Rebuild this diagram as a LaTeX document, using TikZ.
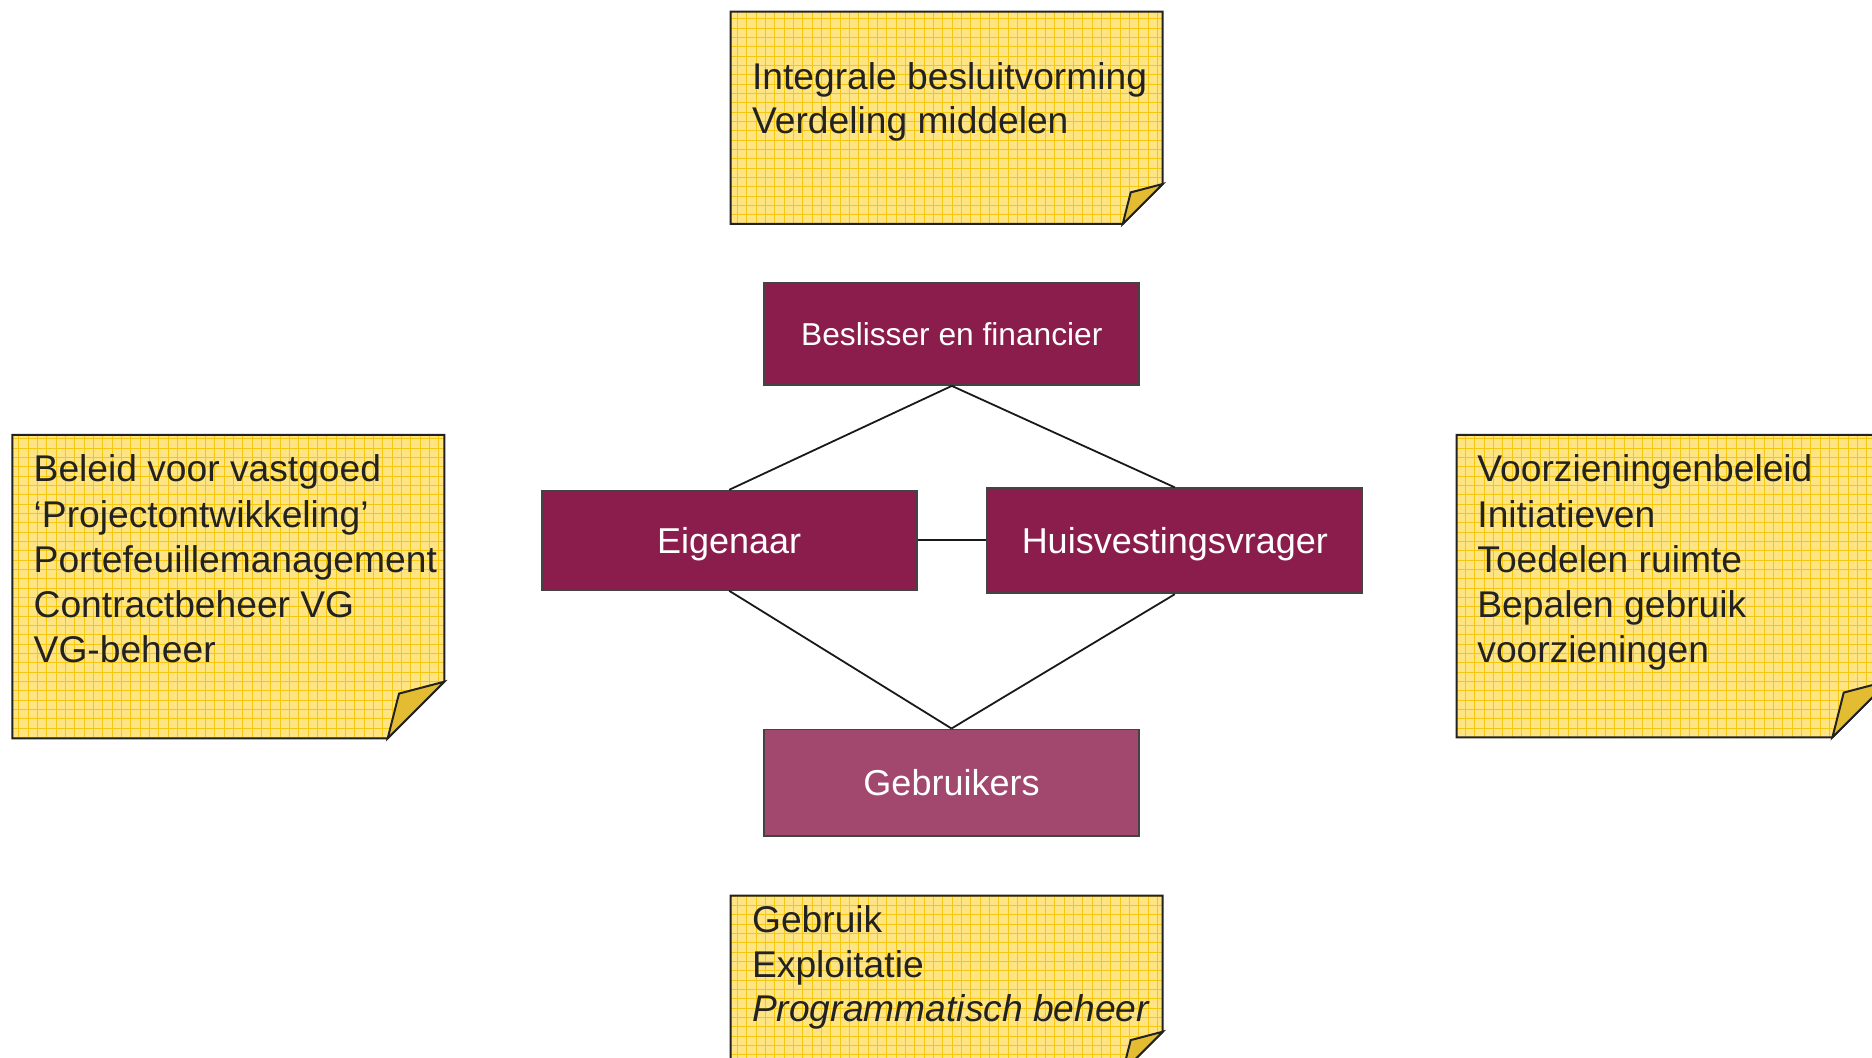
\documentclass[tikz,border=0pt]{standalone}
\usepackage{fontspec}
\setmainfont{Liberation Sans}
\definecolor{notefill}{HTML}{FFE483}
\definecolor{notegrid}{HTML}{F5C710}
\definecolor{flapfill}{HTML}{E3BC32}
\definecolor{boxfill}{HTML}{8A1D4B}
\definecolor{boxlight}{HTML}{A2486F}
\definecolor{ink}{HTML}{222222}
\newcommand\stickynote[5]{%
  \begin{scope}
    \clip ({#1},{#2}) -- ({#3},{#2}) -- ({#3},{#4-#5}) -- ({#3-#5},{#4}) -- ({#1},{#4}) -- cycle;
    \fill[notefill] ({#1},{#2}) rectangle ({#3},{#4});
    \draw[notegrid, line width=0.45pt, step=4.667pt] ({#1},{#2}) grid ({#3},{#4});
  \end{scope}
  \draw[notebord] ({#1},{#2}) -- ({#3},{#2}) -- ({#3},{#4-#5}) -- ({#3-#5},{#4}) -- ({#1},{#4}) -- cycle;
  \filldraw[notebord, fill=flapfill] ({#3},{#4-#5}) -- ({#3-0.8*#5},{#4-0.79*#5}) -- ({#3-#5},{#4}) -- cycle;
}
\begin{document}
\begin{tikzpicture}[x=0.5pt,y=-0.5pt,
  notebord/.style={draw=ink, line width=1pt, line join=miter},
  notetext/.style={anchor=base west, inner sep=0pt, text=ink, font=\fontsize{18.6pt}{22pt}\selectfont},
  rolebox/.style={draw=ink!85, line width=0.9pt, fill=boxfill, text=white, minimum width=187.5pt, inner sep=0pt, text depth=0pt},
  bigrole/.style={rolebox, font=\fontsize{18pt}{21pt}\selectfont, text height=12.9pt},
  link/.style={draw=black!90, line width=0.9pt}]
\useasboundingbox (0,0) rectangle (1872,1058);

% sticky notes
\stickynote{730.7}{11.7}{1162.7}{224}{40}
\stickynote{12.3}{435}{444.3}{738.3}{56.6}
\stickynote{1456.6}{435}{1889}{737.3}{56.6}
\stickynote{730.7}{895.7}{1162.7}{1071.7}{40}

% note texts
\node[notetext] (t1) at (751.7,89.3) {Integrale besluitvorming};
\node[notetext] (t2) at (751.7,133.3) {Verdeling middelen};

\node[notetext] (l1) at (33.3,481.7) {Beleid voor vastgoed};
\node[notetext] (l2) at (33.3,527) {‘Projectontwikkeling’};
\node[notetext] (l3) at (33.3,572.3) {Portefeuillemanagement};
\node[notetext] (l4) at (33.3,617.6) {Contractbeheer VG};
\node[notetext] (l5) at (33.3,662.9) {VG-beheer};

\node[notetext] (r1) at (1477,481.7) {Voorzieningenbeleid};
\node[notetext] (r2) at (1477,527) {Initiatieven};
\node[notetext] (r3) at (1477,572.3) {Toedelen ruimte};
\node[notetext] (r4) at (1477,617.6) {Bepalen gebruik};
\node[notetext] (r5) at (1477,662.9) {voorzieningen};

\node[notetext] (b1) at (751.7,932.7) {Gebruik};
\node[notetext] (b2) at (751.7,977.3) {Exploitatie};
\node[notetext] (b3) at (751.7,1021.7) {\itshape Programmatisch beheer};

% role boxes
\node[rolebox, minimum height=50.8pt, text height=11.35pt, font=\fontsize{15.85pt}{18pt}\selectfont] (bes) at (951.8,334.2) {Beslisser en financier};
\node[bigrole, minimum height=49.6pt] (eig) at (729.2,540.3) {Eigenaar};
\node[bigrole, minimum height=52.5pt] (huis) at (1174.8,540.8) {Huisvestingsvrager};
\node[bigrole, fill=boxlight, minimum height=53.2pt] (geb) at (951.5,782.6) {Gebruikers};

% connectors
\draw[link] (bes.south) -- (eig.north);
\draw[link] (bes.south) -- (huis.north);
\draw[link] (eig.east) -- (eig.east -| huis.west);
\draw[link] (eig.south) -- (geb.north);
\draw[link] (huis.south) -- (geb.north);
\end{tikzpicture}
\end{document}
